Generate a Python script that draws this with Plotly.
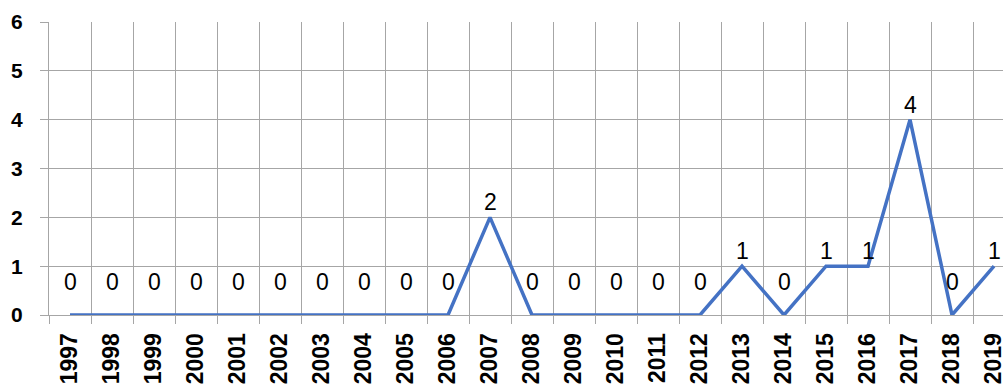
import plotly.graph_objects as go

# Yearly counts
years = [str(y) for y in range(1997, 2020)]
counts = [0, 0, 0, 0, 0, 0, 0, 0, 0, 0, 2, 0, 0, 0, 0, 0, 1, 0, 1, 1, 4, 0, 1]
y_ticks = [0, 1, 2, 3, 4, 5, 6]

LINE_BLUE = "#4472C4"
GRID = "#A6A6A6"
FONT = "Liberation Sans"

fig = go.Figure()
fig.add_trace(go.Scatter(
    x=years, y=counts, mode="lines",
    line=dict(color=LINE_BLUE, width=3.5),
    cliponaxis=False, hoverinfo="x+y",
))

# value labels above each point (zeros sit a bit higher);
# category positions are given by index on the category axis
for i, v in enumerate(counts):
    fig.add_annotation(
        x=i, y=v, xref="x", yref="y", text=str(v), showarrow=False,
        xanchor="center", yanchor="bottom",
        yshift=18 if v == 0 else 0,
        font=dict(family=FONT, size=23, color="#000000"),
    )

fig.update_layout(
    width=1003, height=385,
    margin=dict(l=49, r=0, t=22, b=70, autoexpand=False),
    paper_bgcolor="white", plot_bgcolor="white",
    showlegend=False,
)

fig.update_xaxes(
    type="category", categoryorder="array", categoryarray=years,
    range=[-0.5, 22.214], tickson="boundaries",
    showgrid=True, gridcolor=GRID, gridwidth=1,
    ticks="outside", ticklen=8, tickcolor=GRID, tickwidth=1,
    showline=True, linecolor=GRID, linewidth=1,
    tickangle=-90, ticklabelstandoff=8,
    tickfont=dict(family=FONT, size=23, color="#000000", weight="bold"),
    automargin=False, fixedrange=True,
)
fig.update_yaxes(
    range=[0, 6], tickvals=y_ticks, ticktext=[str(t) for t in y_ticks],
    showgrid=True, gridcolor=GRID, gridwidth=1,
    zeroline=False,
    ticks="outside", ticklen=8, tickcolor=GRID, tickwidth=1,
    showline=True, linecolor=GRID, linewidth=1,
    ticklabelstandoff=13,
    tickfont=dict(family=FONT, size=21, color="#000000", weight="bold"),
    automargin=False, fixedrange=True,
)

fig.write_html("out.html")
